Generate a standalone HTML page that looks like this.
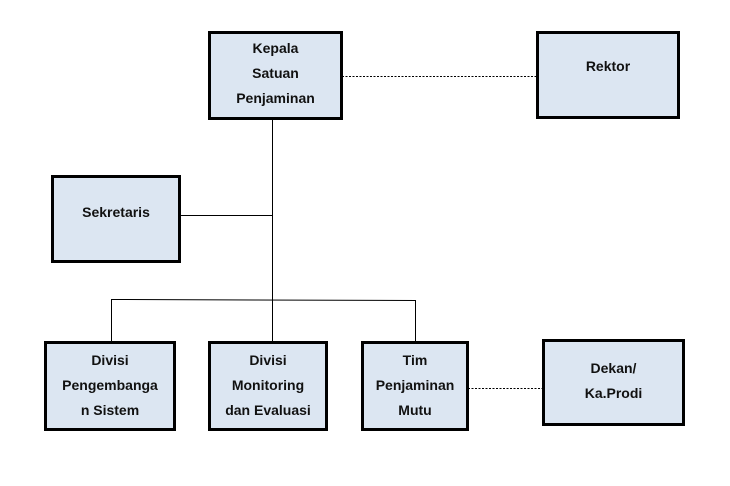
<!DOCTYPE html>
<html><head><style>
body{margin:0;width:730px;height:486px;background:#fff;position:relative;overflow:hidden;font-family:"Liberation Sans",sans-serif}
.b{position:absolute;box-sizing:border-box;border:3px solid #000;background:#dce6f2;display:flex;align-items:center;justify-content:center;text-align:center;font-weight:bold;font-size:14px;line-height:25px;color:#111}
svg{position:absolute;left:0;top:0}
</style></head><body>
<svg width="730" height="486">
<g stroke="#000" stroke-width="1" fill="none">
<line x1="272.5" y1="119" x2="272.5" y2="341"/>
<line x1="180" y1="215.5" x2="272" y2="215.5"/>
<line x1="111.5" y1="299.5" x2="415.5" y2="300.5"/>
<line x1="111.5" y1="299" x2="111.5" y2="341"/>
<line x1="415.5" y1="300" x2="415.5" y2="341"/>
<line x1="342" y1="76.5" x2="536" y2="76.5" stroke-dasharray="2,1.5"/>
<line x1="468" y1="388.5" x2="542" y2="388.5" stroke-dasharray="2,1.5"/>
</g></svg>
<div class="b" style="left:208px;top:31px;width:135px;height:89px;padding-bottom:4px">Kepala<br>Satuan<br>Penjaminan</div>
<div class="b" style="left:536px;top:31px;width:144px;height:88px;align-items:flex-start;padding-top:20px">Rektor</div>
<div class="b" style="left:51px;top:175px;width:130px;height:88px;padding-bottom:14px">Sekretaris</div>
<div class="b" style="left:44px;top:341px;width:132px;height:90px;padding-bottom:2px">Divisi<br>Pengembanga<br>n Sistem</div>
<div class="b" style="left:208px;top:341px;width:120px;height:90px;padding-bottom:2px">Divisi<br>Monitoring<br>dan Evaluasi</div>
<div class="b" style="left:361px;top:341px;width:108px;height:90px;padding-bottom:2px">Tim<br>Penjaminan<br>Mutu</div>
<div class="b" style="left:542px;top:339px;width:143px;height:87px;padding-bottom:4px">Dekan/<br>Ka.Prodi</div>
</body></html>
